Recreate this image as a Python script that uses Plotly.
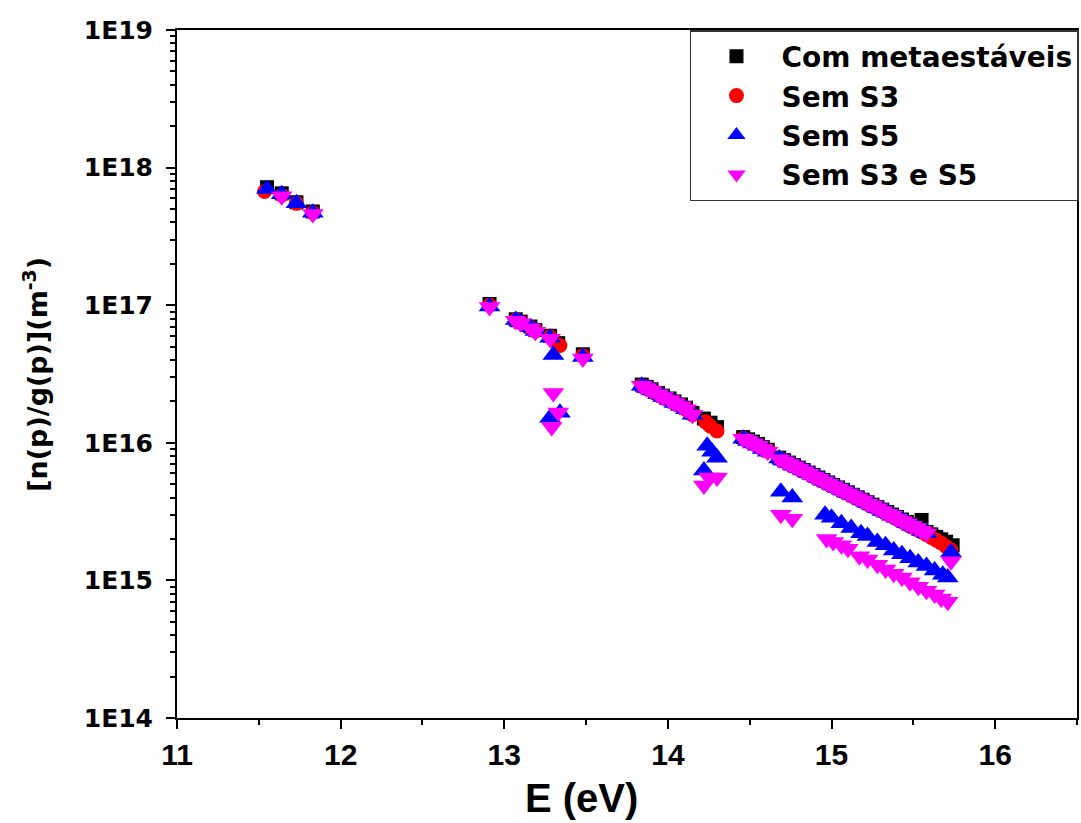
import plotly.graph_objects as go

# ---------------- data ----------------
E_black = [11.55, 11.64, 11.73, 11.83,
           12.91, 13.07, 13.10, 13.16, 13.19, 13.28, 13.33, 13.48,
           13.84, 13.87, 13.90, 13.94, 13.97, 14.01, 14.04, 14.08, 14.11, 14.15, 14.22, 14.26, 14.30,
           14.46, 14.49, 14.52, 14.55, 14.58, 14.61,
           14.68, 14.71, 14.74, 14.77, 14.80, 14.83, 14.86, 14.89, 14.92, 14.95, 14.98, 15.01,
           15.04, 15.07, 15.10, 15.13, 15.16, 15.19, 15.22, 15.25, 15.28, 15.31, 15.34, 15.37,
           15.40, 15.43, 15.46, 15.49, 15.52, 15.55, 15.58, 15.61, 15.64, 15.67, 15.70, 15.74]
n_black = [7.2e17, 6.5e17, 5.6e17, 4.8e17,
           1.02e17, 7.9e16, 7.6e16, 7.0e16, 6.6e16, 6.0e16, 5.3e16, 4.4e16,
           2.65e16, 2.55e16, 2.45e16, 2.3e16, 2.2e16, 2.1e16, 2.0e16, 1.9e16, 1.8e16, 1.65e16, 1.5e16, 1.4e16, 1.3e16,
           1.1e16, 1.06e16, 1.02e16, 9.8e15, 9.3e15, 8.9e15,
           7.8e15, 7.48e15, 7.18e15, 6.89e15, 6.61e15, 6.34e15, 6.08e15, 5.84e15, 5.60e15, 5.37e15, 5.15e15, 4.94e15,
           4.74e15, 4.55e15, 4.37e15, 4.19e15, 4.02e15, 3.86e15, 3.70e15, 3.55e15, 3.41e15, 3.27e15, 3.14e15, 3.01e15,
           2.89e15, 2.77e15, 2.66e15, 2.55e15, 2.45e15, 2.75e15, 2.25e15, 2.16e15, 2.07e15, 1.99e15, 1.91e15, 1.80e15]

E_red = [11.535, 11.64, 11.73, 11.83,
         12.91, 13.07, 13.10, 13.16, 13.19, 13.28, 13.34, 13.48,
         13.84, 13.87, 13.90, 13.94, 13.97, 14.01, 14.04, 14.08, 14.11, 14.15, 14.23, 14.26, 14.30,
         14.46, 14.49, 14.52, 14.55, 14.58, 14.61,
         14.68, 14.71, 14.74, 14.77, 14.80, 14.83, 14.86, 14.89, 14.92, 14.95, 14.98, 15.01,
         15.04, 15.07, 15.10, 15.13, 15.16, 15.19, 15.22, 15.25, 15.28, 15.31, 15.34, 15.37,
         15.40, 15.43, 15.46, 15.49, 15.52, 15.55, 15.58, 15.61, 15.64, 15.67, 15.70, 15.73]
n_red = [6.7e17, 6.3e17, 5.5e17, 4.7e17,
         1.0e17, 7.8e16, 7.5e16, 6.9e16, 6.5e16, 5.9e16, 5.1e16, 4.3e16,
         2.6e16, 2.5e16, 2.4e16, 2.25e16, 2.15e16, 2.05e16, 1.95e16, 1.85e16, 1.75e16, 1.6e16, 1.42e16, 1.32e16, 1.22e16,
         1.08e16, 1.04e16, 1.0e16, 9.6e15, 9.1e15, 8.7e15,
         7.7e15, 7.4e15, 7.1e15, 6.8e15, 6.5e15, 6.25e15, 6.0e15, 5.75e15, 5.5e15, 5.3e15, 5.05e15, 4.85e15,
         4.65e15, 4.45e15, 4.3e15, 4.1e15, 3.95e15, 3.8e15, 3.62e15, 3.48e15, 3.33e15, 3.2e15, 3.07e15, 2.94e15,
         2.8e15, 2.68e15, 2.56e15, 2.45e15, 2.35e15, 2.25e15, 2.15e15, 2.05e15, 1.96e15, 1.87e15, 1.76e15, 1.66e15]

E_blue = [11.55, 11.64, 11.73, 11.83,
          12.91, 13.07, 13.10, 13.16, 13.19, 13.28, 13.30, 13.28, 13.34, 13.48,
          13.84, 13.87, 13.90, 13.94, 13.97, 14.01, 14.04, 14.08, 14.11, 14.15, 14.22, 14.24, 14.27, 14.30,
          14.46, 14.49, 14.52, 14.55, 14.58, 14.61,
          14.68, 14.71, 14.74, 14.77, 14.80, 14.83, 14.86, 14.89, 14.92, 14.95, 14.98, 15.01,
          15.04, 15.07, 15.10, 15.13, 15.16, 15.19, 15.22, 15.25, 15.28, 15.31, 15.34, 15.37,
          15.40, 15.43, 15.46, 15.49, 15.52, 15.55, 15.58, 15.73,
          14.69, 14.76,
          14.96, 15.00, 15.06, 15.12, 15.18, 15.22, 15.28, 15.33, 15.38, 15.43, 15.48, 15.53, 15.58, 15.63, 15.68, 15.71]
n_blue = [7.0e17, 6.4e17, 5.5e17, 4.7e17,
          9.8e16, 7.8e16, 7.5e16, 6.9e16, 6.5e16, 5.8e16, 4.35e16, 1.52e16, 1.65e16, 4.2e16,
          2.6e16, 2.5e16, 2.4e16, 2.25e16, 2.15e16, 2.05e16, 1.95e16, 1.85e16, 1.75e16, 1.6e16, 6.3e15, 9.5e15, 8.6e15, 7.8e15,
          1.07e16, 1.03e16, 9.9e15, 9.5e15, 9.0e15, 8.6e15,
          7.7e15, 7.4e15, 7.1e15, 6.8e15, 6.55e15, 6.3e15, 6.0e15, 5.8e15, 5.55e15, 5.3e15, 5.1e15, 4.9e15,
          4.7e15, 4.5e15, 4.3e15, 4.15e15, 4.0e15, 3.8e15, 3.65e15, 3.5e15, 3.35e15, 3.2e15, 3.1e15, 2.95e15,
          2.85e15, 2.75e15, 2.6e15, 2.5e15, 2.4e15, 2.3e15, 2.2e15, 1.6e15,
          4.4e15, 4.0e15,
          3.0e15, 2.85e15, 2.6e15, 2.4e15, 2.2e15, 2.1e15, 1.9e15, 1.8e15, 1.65e15, 1.55e15, 1.45e15, 1.35e15,
          1.27e15, 1.18e15, 1.1e15, 1.05e15]

E_mag = [11.64, 11.83,
         12.91, 13.07, 13.10, 13.16, 13.19, 13.28, 13.30, 13.33, 13.29, 13.48,
         13.84, 13.87, 13.90, 13.94, 13.97, 14.01, 14.04, 14.08, 14.11, 14.15, 14.22, 14.25, 14.30,
         14.46, 14.49, 14.52, 14.55, 14.58, 14.61,
         14.68, 14.71, 14.74, 14.77, 14.80, 14.83, 14.86, 14.89, 14.92, 14.95, 14.98, 15.01,
         15.04, 15.07, 15.10, 15.13, 15.16, 15.19, 15.22, 15.25, 15.28, 15.31, 15.34, 15.37,
         15.40, 15.43, 15.46, 15.49, 15.52, 15.55, 15.58, 15.73,
         14.69, 14.76,
         14.97, 15.01, 15.06, 15.10, 15.17, 15.22, 15.28, 15.33, 15.38, 15.43, 15.48, 15.53, 15.58, 15.63, 15.67, 15.71]
n_mag = [6.2e17, 4.6e17,
         9.7e16, 7.7e16, 7.4e16, 6.8e16, 6.4e16, 5.7e16, 2.3e16, 1.66e16, 1.3e16, 4.1e16,
         2.6e16, 2.5e16, 2.4e16, 2.25e16, 2.15e16, 2.05e16, 1.95e16, 1.85e16, 1.75e16, 1.6e16, 4.9e15, 5.6e15, 5.6e15,
         1.07e16, 1.03e16, 9.9e15, 9.5e15, 9.0e15, 8.6e15,
         7.6e15, 7.3e15, 7.0e15, 6.75e15, 6.5e15, 6.2e15, 5.95e15, 5.7e15, 5.5e15, 5.25e15, 5.05e15, 4.85e15,
         4.65e15, 4.45e15, 4.3e15, 4.1e15, 3.95e15, 3.8e15, 3.6e15, 3.5e15, 3.35e15, 3.2e15, 3.05e15, 2.95e15,
         2.8e15, 2.7e15, 2.6e15, 2.5e15, 2.4e15, 2.3e15, 2.2e15, 1.38e15,
         3.0e15, 2.8e15,
         2.0e15, 1.9e15, 1.8e15, 1.7e15, 1.5e15, 1.42e15, 1.3e15, 1.2e15, 1.12e15, 1.05e15, 0.97e15, 0.9e15,
         0.84e15, 0.79e15, 0.74e15, 0.7e15]

series_names = ["Com metaestáveis", "Sem S3", "Sem S5", "Sem S3 e S5"]
x_ticks = [11, 12, 13, 14, 15, 16]
y_tickvals = [1e14, 1e15, 1e16, 1e17, 1e18, 1e19]
y_ticktext = ["1E14", "1E15", "1E16", "1E17", "1E18", "1E19"]
x_title = "E (eV)"
y_title = "[n(p)/g(p)](m<sup>-3</sup>)"

WIDE = "DejaVu Sans, Liberation Sans, Arial, sans-serif"
NARROW = "Liberation Sans Narrow, Liberation Sans, Arial, sans-serif"

# ---------------- figure ----------------
fig = go.Figure()
styles = [
    (E_black, n_black, "square", "#000000", 14),
    (E_red, n_red, "circle", "#ff0000", 15),
    (E_blue, n_blue, "triangle-up", "#0000ff", 19),
    (E_mag, n_mag, "triangle-down", "#ff00ff", 19),
]
for i, (xs, ys, sym, col, sz) in enumerate(styles):
    fig.add_trace(go.Scatter(
        x=xs, y=ys, mode="markers", name=series_names[i],
        marker=dict(symbol=sym, color=col, size=sz, line=dict(width=0)),
    ))

minor_y = [m * 10 ** d for d in range(14, 19) for m in range(2, 10)]

fig.update_layout(
    width=1081, height=823,
    margin=dict(l=177, r=2, t=30, b=105),
    paper_bgcolor="white", plot_bgcolor="white",
    font=dict(family=WIDE, color="black"),
    showlegend=True,
    legend=dict(
        x=1.0022, xanchor="right", y=1.0, yanchor="top",
        bgcolor="white", bordercolor="#333333", borderwidth=1.5,
        font=dict(size=28, family=WIDE, weight="bold"),
        itemwidth=80, itemsizing="trace", tracegroupgap=0,
    ),
    xaxis=dict(
        range=[11, 16.5], tickvals=x_ticks, automargin=False,
        ticks="outside", ticklen=9, tickwidth=2, tickcolor="black",
        showline=True, linecolor="black", linewidth=2, mirror=True,
        showgrid=False, zeroline=False,
        tickfont=dict(size=30, family=NARROW, weight="bold"),
        minor=dict(ticks="outside", ticklen=5, tickwidth=1.5, tickcolor="black", dtick=0.5, showgrid=False),
        ticklabelstandoff=0,
    ),
    yaxis=dict(
        type="log", range=[14, 19], automargin=False,
        tickvals=y_tickvals, ticktext=y_ticktext,
        ticks="outside", ticklen=9, tickwidth=2, tickcolor="black",
        showline=True, linecolor="black", linewidth=2, mirror=True,
        showgrid=False, zeroline=False,
        tickfont=dict(size=25, family=WIDE, weight="bold"),
        minor=dict(ticks="outside", ticklen=5, tickwidth=1.5, tickcolor="black", tickvals=minor_y, showgrid=False),
        ticklabelstandoff=8,
    ),
    annotations=[
        dict(text=x_title, x=13.47, xref="x", y=-0.117, yref="paper",
             xanchor="center", yanchor="middle", showarrow=False,
             font=dict(size=40, family=NARROW, weight="bold")),
        dict(text=y_title, x=-0.158, xref="paper", y=0.5, yref="paper", textangle=-90,
             xanchor="center", yanchor="middle", showarrow=False,
             font=dict(size=27, family=WIDE, weight="bold")),
    ],
)

fig.write_html("out.html", config={"displayModeBar": False},
               post_script="document.body.style.margin='0px';")
